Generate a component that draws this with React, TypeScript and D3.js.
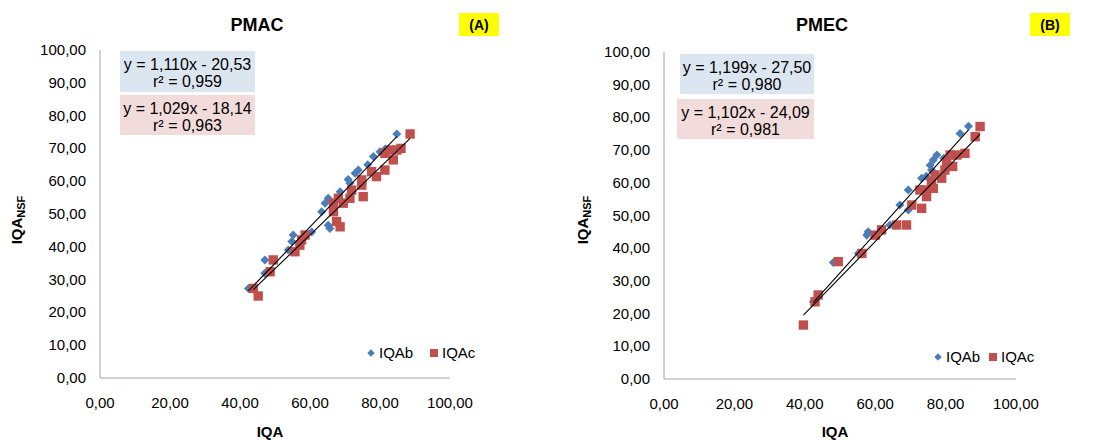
import React from "react";
import * as d3 from "d3";

// PMAC panel: IQAb (diamonds) and IQAc (squares), [IQA, IQA_NSF]
const pmacIQAb: [number, number][] = [
  [84.8, 74.4], [78.1, 67.5], [80.0, 69.0], [81.5, 69.8], [73.8, 63.4], [72.9, 62.4],
  [70.9, 60.5], [71.4, 59.4], [68.6, 56.8], [65.2, 54.8], [64.3, 53.3], [63.3, 50.7],
  [65.2, 46.6], [65.7, 45.6], [55.2, 43.6], [54.8, 41.6], [53.8, 39.0], [47.1, 36.0],
  [47.1, 31.9], [42.4, 27.3], [76.5, 65.0], [60.5, 44.5],
];
const pmacIQAc: [number, number][] = [
  [88.6, 74.4], [84.8, 69.5], [82.9, 69.5], [81.4, 68.5], [83.8, 66.5], [81.4, 63.4],
  [79.0, 61.4], [77.6, 62.9], [74.8, 60.4], [74.8, 58.8], [75.2, 55.3], [71.9, 57.3],
  [71.4, 54.8], [69.5, 53.3], [68.1, 54.8], [66.7, 53.3], [66.7, 50.7], [67.6, 47.7],
  [68.6, 46.1], [58.6, 43.6], [57.6, 42.1], [57.1, 40.5], [55.7, 38.5], [49.5, 36.0],
  [48.6, 32.4], [43.8, 27.3], [45.2, 25.0], [86.0, 70.0],
];

// PMEC panel
const pmecIQAb: [number, number][] = [
  [86.5, 77.3], [84.1, 75.1], [77.5, 68.5], [76.5, 67.0], [75.6, 65.4], [76.0, 63.9],
  [73.2, 61.4], [69.4, 57.8], [67.0, 53.2], [69.4, 51.7], [64.2, 47.1], [58.0, 45.0],
  [57.6, 44.0], [48.1, 35.6], [55.2, 38.4], [42.4, 23.6], [79.5, 67.5], [74.5, 62.0],
];
const pmecIQAc: [number, number][] = [
  [89.8, 77.2], [88.4, 74.1], [85.5, 69.0], [83.2, 68.5], [81.3, 68.5], [80.3, 66.5],
  [79.8, 63.9], [78.9, 61.4], [77.0, 62.4], [76.0, 60.3], [76.5, 58.3], [74.1, 57.8],
  [72.7, 57.8], [74.6, 55.8], [73.2, 52.2], [70.4, 53.2], [68.9, 47.1], [66.1, 47.1],
  [61.8, 45.6], [60.0, 44.0], [56.2, 38.4], [49.5, 35.9], [43.8, 25.7], [42.9, 23.6],
  [39.6, 16.5], [82.0, 65.0],
];

// Linear fits: [slope, intercept, r²]
const pmacFitB = [1.11, -20.53, 0.959];
const pmacFitC = [1.029, -18.14, 0.963];
const pmecFitB = [1.199, -27.5, 0.98];
const pmecFitC = [1.102, -24.09, 0.981];

const axisTicks = [0, 20, 40, 60, 80, 100];
const yTicks = [0, 10, 20, 30, 40, 50, 60, 70, 80, 90, 100];

const BLUE = "#4a7ebb";
const RED = "#c0504d";
const FONT = "'Liberation Sans', Arial, sans-serif";

const ptBr = d3.formatLocale({ decimal: ",", thousands: ".", grouping: [3], currency: ["R$", ""] });
const f2 = ptBr.format(".2f");
const f3 = ptBr.format(".3f");

type PanelProps = {
  title: string;
  tag: string;
  x0: number;
  x1: number;
  y0: number;
  y1: number;
  b: [number, number][];
  c: [number, number][];
  fitB: number[];
  fitC: number[];
  boxB: [number, number, number, number];
  boxC: [number, number, number, number];
  legendX: number;
  legendY: number;
  legendGap: number;
  tagX: number;
  yTitleX: number;
};

function eqText(fit: number[]) {
  const sign = fit[1] < 0 ? "-" : "+";
  return `y = ${f3(fit[0])}x ${sign} ${f2(Math.abs(fit[1]))}`;
}

function Panel(p: PanelProps) {
  const x = d3.scaleLinear().domain([0, 100]).range([p.x0, p.x1]);
  const y = d3.scaleLinear().domain([0, 100]).range([p.y0, p.y1]);
  const diamond = d3.symbol().type(d3.symbolDiamond2).size(52)();
  const square = d3.symbol().type(d3.symbolSquare).size(88)();
  const fitLine = (fit: number[], pts: [number, number][]) => {
    const [lo, hi] = d3.extent(pts, (d) => d[0]) as [number, number];
    return d3.line()([
      [x(lo), y(fit[0] * lo + fit[1])],
      [x(hi), y(fit[0] * hi + fit[1])],
    ]);
  };
  const cx = (p.x0 + p.x1) / 2;
  return (
    <g fontFamily={FONT}>
      <text x={cx - 18} y={31} fontSize={18} fontWeight="bold" textAnchor="middle">{p.title}</text>
      <rect x={p.tagX} y={13} width={40} height={23} fill="#ffff00" />
      <text x={p.tagX + 20} y={30} fontSize={14} fontWeight="bold" textAnchor="middle">{p.tag}</text>

      {/* axes */}
      <line x1={p.x0} x2={p.x0} y1={y(100)} y2={y(0)} stroke="#a6a6a6" />
      <line x1={p.x0} x2={p.x1} y1={y(0)} y2={y(0)} stroke="#a6a6a6" />
      {yTicks.map((t) => (
        <text key={"y" + t} x={p.x0 - 14} y={y(t) + 5} fontSize={15} textAnchor="end">{f2(t)}</text>
      ))}
      {axisTicks.map((t) => (
        <text key={"x" + t} x={x(t)} y={y(0) + 30} fontSize={15} textAnchor="middle">{f2(t)}</text>
      ))}
      <text x={cx - 5} y={437} fontSize={15} fontWeight="bold" textAnchor="middle">IQA</text>
      <text transform={`translate(${p.yTitleX},220) rotate(-90)`} fontSize={15} fontWeight="bold" textAnchor="middle">
        IQA<tspan fontSize={11} dy={3}>NSF</tspan>
      </text>

      {/* fit labels */}
      <rect x={p.boxB[0]} y={p.boxB[1]} width={p.boxB[2]} height={p.boxB[3]} fill="#dce6f1" />
      <text x={p.boxB[0] + p.boxB[2] / 2} y={p.boxB[1] + 19} fontSize={16} textAnchor="middle">{eqText(p.fitB)}</text>
      <text x={p.boxB[0] + p.boxB[2] / 2} y={p.boxB[1] + 36} fontSize={16} textAnchor="middle">{`r² = ${f3(p.fitB[2])}`}</text>
      <rect x={p.boxC[0]} y={p.boxC[1]} width={p.boxC[2]} height={p.boxC[3]} fill="#f2dcdb" />
      <text x={p.boxC[0] + p.boxC[2] / 2} y={p.boxC[1] + 19} fontSize={16} textAnchor="middle">{eqText(p.fitC)}</text>
      <text x={p.boxC[0] + p.boxC[2] / 2} y={p.boxC[1] + 36} fontSize={16} textAnchor="middle">{`r² = ${f3(p.fitC[2])}`}</text>

      {/* markers */}
      {p.b.map((d, i) => (
        <path key={"b" + i} d={diamond!} transform={`translate(${x(d[0])},${y(d[1])})`} fill={BLUE} />
      ))}
      {p.c.map((d, i) => (
        <path key={"c" + i} d={square!} transform={`translate(${x(d[0])},${y(d[1])})`} fill={RED} />
      ))}

      {/* trend lines */}
      <path d={fitLine(p.fitB, p.b)!} stroke="#000" strokeWidth={1.1} fill="none" />
      <path d={fitLine(p.fitC, p.c)!} stroke="#000" strokeWidth={1.1} fill="none" />

      {/* legend */}
      <path d={d3.symbol().type(d3.symbolDiamond2).size(36)()!} transform={`translate(${p.legendX},${p.legendY})`} fill={BLUE} />
      <text x={p.legendX + 8} y={p.legendY + 5} fontSize={15}>IQAb</text>
      <rect x={p.legendX + p.legendGap} y={p.legendY - 4} width={8} height={8} fill={RED} />
      <text x={p.legendX + p.legendGap + 12} y={p.legendY + 5} fontSize={15}>IQAc</text>
    </g>
  );
}

export default function App() {
  return (
    <svg width={1113} height={440} style={{ position: "absolute", left: 0, top: 0, background: "#fff" }}>
      <rect width={1113} height={440} fill="#fff" />
      <Panel
        title="PMAC" tag="(A)" x0={100} x1={450} y0={378} y1={50}
        b={pmacIQAb} c={pmacIQAc} fitB={pmacFitB} fitC={pmacFitC}
        boxB={[120, 51, 135, 41]} boxC={[120, 95, 135, 40]}
        legendX={371} legendY={353} legendGap={59} tagX={459} yTitleX={22}
      />
      <Panel
        title="PMEC" tag="(B)" x0={664} x1={1016} y0={379} y1={52}
        b={pmecIQAb} c={pmecIQAc} fitB={pmecFitB} fitC={pmecFitC}
        boxB={[680, 54, 134, 40]} boxC={[677, 99, 137, 40]}
        legendX={938} legendY={357} legendGap={51} tagX={1030} yTitleX={588}
      />
    </svg>
  );
}
